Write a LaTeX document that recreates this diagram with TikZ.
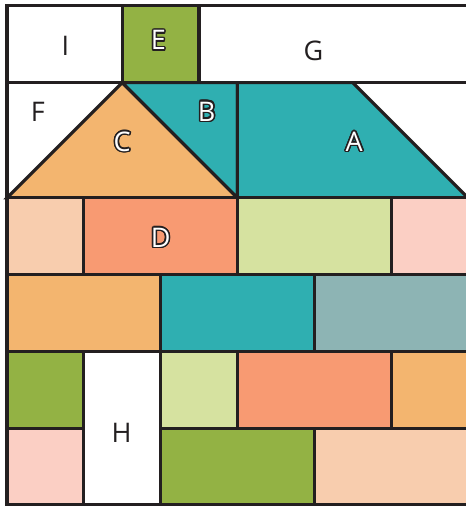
\documentclass[tikz,border=0pt]{standalone}
\usepackage{fontspec}
\setmainfont{Open Sans}
\usepackage{contour}
\contourlength{0.55pt}
\usetikzlibrary{positioning}
\definecolor{myline}{RGB}{35,31,32}
\definecolor{myteal}{RGB}{47,175,177}
\definecolor{mygreen}{RGB}{147,178,68}
\definecolor{myorange}{RGB}{243,181,111}
\definecolor{mysalmon}{RGB}{248,154,114}
\definecolor{mylime}{RGB}{214,226,160}
\definecolor{mypink}{RGB}{251,207,196}
\definecolor{mypeach}{RGB}{248,205,174}
\definecolor{mygrey}{RGB}{141,180,180}
\tikzset{
  tile/.style={draw=myline, line width=1.15pt, line join=miter},
  plainlabel/.style={font=\fontsize{10}{12}\selectfont, text=myline, inner sep=0pt},
  outlabel/.style={font=\fontsize{10}{12}\selectfont, inner sep=0pt}
}
\newcommand{\outlined}[1]{\contour{myline}{\textcolor{white}{#1}}}

\begin{document}
\begin{tikzpicture}
  \useasboundingbox (-0.0915,-0.013) rectangle (5.97,6.575);
  \fill[white] (-0.0915,-0.013) rectangle (5.97,6.575);

  \draw[tile, fill=white] (0,5.5) rectangle (1.5,6.5);
  \draw[tile, fill=mygreen] (1.5,5.5) rectangle (2.5,6.5);
  \draw[tile, fill=white] (2.5,5.5) rectangle (6,6.5);

  \draw[tile, fill=white] (0,4) rectangle (6,5.5);
  \draw[tile, fill=myorange] (0,4) -- (1.5,5.5) -- (3,4) -- cycle;
  \draw[tile, fill=myteal] (1.5,5.5) -- (3,5.5) -- (3,4) -- cycle;
  \draw[tile, fill=myteal] (3,5.5) -- (4.5,5.5) -- (6,4) -- (3,4) -- cycle;

  \draw[tile, fill=mypeach] (0,3) rectangle (1,4);
  \draw[tile, fill=mysalmon] (1,3) rectangle (3,4);
  \draw[tile, fill=mylime] (3,3) rectangle (5,4);
  \draw[tile, fill=mypink] (5,3) rectangle (6,4);

  \draw[tile, fill=myorange] (0,2) rectangle (2,3);
  \draw[tile, fill=myteal] (2,2) rectangle (4,3);
  \draw[tile, fill=mygrey] (4,2) rectangle (6,3);

  \draw[tile, fill=mygreen] (0,1) rectangle (1,2);
  \draw[tile, fill=white] (1,0) rectangle (2,2);
  \draw[tile, fill=mylime] (2,1) rectangle (3,2);
  \draw[tile, fill=mysalmon] (3,1) rectangle (5,2);
  \draw[tile, fill=myorange] (5,1) rectangle (6,2);

  \draw[tile, fill=mypink] (0,0) rectangle (1,1);
  \draw[tile, fill=mygreen] (2,0) rectangle (4,1);
  \draw[tile, fill=mypeach] (4,0) rectangle (6,1);

  \node[plainlabel] (labI) at (0.76,5.98) {I};
  \node[outlabel] (labE) at (1.97,6.04) {\outlined{E}};
  \node[plainlabel] (labG) at (3.99,5.91) {G};
  \node[plainlabel] (labF) at (0.4,5.115) {F};
  \node[outlabel] (labB) at (2.6,5.115) {\outlined{B}};
  \node[outlabel] (labC) at (1.5,4.72) {\outlined{C}};
  \node[outlabel] (labA) at (4.52,4.72) {\outlined{A}};
  \node[outlabel] (labD) at (2.0,3.47) {\outlined{D}};
  \node[plainlabel] (labH) at (1.49,0.94) {H};
\end{tikzpicture}
\end{document}
